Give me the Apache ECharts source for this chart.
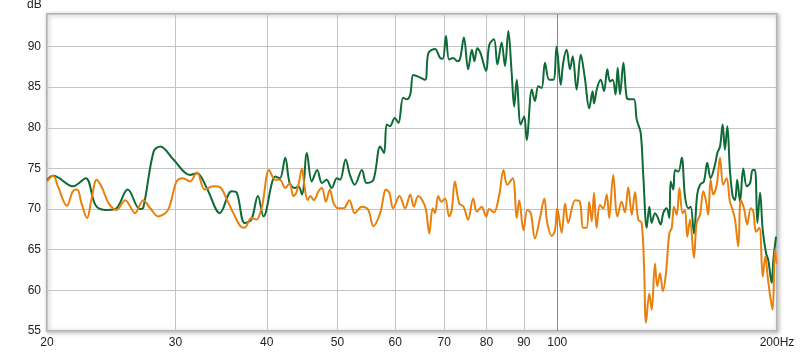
<!DOCTYPE html>
<html><head><meta charset="utf-8">
<script src="https://cdn.jsdelivr.net/npm/echarts@6/dist/echarts.min.js"></script>
<style>html,body{margin:0;padding:0;background:#fff}#c{width:800px;height:352px}</style>
</head><body><div id="c"></div>
<script>
const xTicks = [20,30,40,50,60,70,80,90,100,200];
const yMin = 55, yMax = 94, yStep = 5;

const greenFreq = [20.0,20.4,21.7,22.6,23.3,24.0,24.8,25.8,26.8,27.1,
28.0,28.6,29.8,31.4,32.1,33.1,34.5,35.8,36.4,37.3,
38.1,38.9,39.6,41.1,41.7,42.4,43.0,43.7,44.2,44.7,
45.4,46.1,46.9,47.6,48.3,49.1,49.9,50.4,51.3,52.0,
52.8,54.0,54.8,56.0,57.2,57.9,58.4,59.0,59.9,60.6,
61.5,62.2,62.9,63.5,64.5,65.9,66.6,68.0,69.1,69.7,
70.4,71.1,72.0,73.0,73.6,74.5,75.5,76.4,77.0,77.7,
78.5,79.9,80.7,81.9,82.8,83.9,84.8,85.7,86.6,87.3,
88.0,89.1,90.1,90.8,92.3,93.2,94.2,95.2,96.2,97.5,
98.8,99.8,101.1,101.9,103.0,104.1,105.0,106.3,107.7,109.1,
110.6,111.8,112.3,113.4,114.7,115.9,117.1,118.1,119.1,120.2,
121.0,121.9,123.2,124.5,125.8,127.4,128.5,130.1,131.2,132.6,
133.7,134.7,136.1,137.1,138.6,139.7,141.2,142.4,143.0,144.2,
145.0,146.5,148.1,149.6,151.2,152.3,153.9,155.5,156.9,158.8,
160.5,162.2,164.5,165.7,167.1,168.5,169.7,171.0,172.4,173.9,
175.2,176.4,178.0,179.8,181.8,183.7,185.2,186.6,188.0,189.6,
191.2,193.2,194.6,196.7,197.7,199.4];
const greenDb = [73.6,74.1,72.8,73.8,70.5,69.9,70.0,72.4,70.0,70.2,
77.1,77.7,76.1,74.2,74.4,72.6,69.5,72.2,72.0,68.3,
68.7,71.6,69.1,74.0,73.8,76.3,73.2,72.6,72.8,71.8,
76.9,73.4,74.8,73.2,73.6,72.6,73.8,73.6,76.1,74.2,
73.0,74.8,73.2,73.6,77.7,76.9,80.4,80.2,81.2,80.6,
83.7,83.5,84.1,86.5,86.3,85.9,89.2,89.7,88.6,88.5,
91.3,88.4,88.6,88.2,88.5,91.1,87.2,89.6,88.2,89.8,
89.2,87.0,90.2,90.9,87.8,90.5,87.6,91.9,86.8,82.6,
85.9,80.4,81.4,78.5,84.7,83.3,85.1,84.9,88.0,85.9,
85.9,90.0,85.3,88.0,89.6,87.2,88.8,84.7,89.0,86.1,
82.4,84.5,83.0,84.9,85.9,84.5,87.2,85.7,85.9,84.1,
87.4,84.1,88.0,83.7,83.5,83.5,81.0,79.4,74.0,67.7,
70.3,68.3,69.5,69.1,68.1,69.5,70.1,68.9,73.4,72.4,
74.8,74.6,76.3,71.6,70.1,70.3,67.0,71.8,73.0,73.4,
75.7,73.8,75.5,76.9,77.7,80.4,77.3,80.2,74.8,71.6,
71.1,73.6,70.9,75.0,72.8,73.2,74.8,74.8,68.3,72.0,
67.4,64.6,63.7,60.9,63.7,66.6];

const orangeFreq = [20.0,20.4,20.7,21.3,21.7,22.0,22.3,22.7,23.0,23.4,
23.8,24.3,24.9,25.6,26.4,27.1,27.7,28.4,29.3,30.1,
30.7,31.4,32.1,32.9,33.8,34.5,35.3,36.0,36.8,37.3,
38.1,38.7,39.4,40.3,41.1,41.7,42.4,43.0,43.5,43.9,
44.3,44.7,45.0,45.5,45.9,46.4,47.1,47.6,48.2,48.8,
49.4,50.1,51.0,51.9,52.8,54.0,55.1,56.0,57.2,58.3,
58.9,59.6,60.8,61.9,62.9,63.6,64.5,65.5,66.1,66.8,
67.5,68.0,68.7,69.4,70.2,71.1,71.7,72.4,73.4,74.4,
75.5,76.7,77.6,78.8,79.9,80.7,81.9,83.3,84.4,85.4,
86.9,88.0,88.7,89.9,91.0,92.0,93.2,94.7,96.0,96.9,
98.3,99.3,100.0,101.4,102.5,103.5,105.8,107.4,108.5,109.7,
110.6,111.5,112.3,113.2,114.4,115.6,116.9,117.8,119.3,120.9,
122.5,123.8,125.1,126.5,127.8,129.1,130.5,131.5,132.3,133.7,
134.7,136.1,137.1,138.3,139.5,140.9,142.4,143.5,144.5,145.8,
147.0,148.5,149.6,150.7,152.0,153.9,155.2,156.9,158.5,159.8,
161.0,162.2,163.6,165.4,167.1,168.8,170.6,172.4,173.9,175.2,
177.0,178.4,180.2,182.1,184.1,185.6,187.2,189.2,191.2,192.8,
194.2,196.1,197.3,198.7,199.8];
const orangeDb = [73.4,74.1,72.8,70.4,72.2,72.4,70.7,68.9,71.1,73.6,
72.6,70.7,69.9,71.1,69.5,71.1,70.1,69.1,69.9,73.4,
73.8,73.4,74.5,72.4,72.8,72.7,71.1,69.5,67.9,67.7,
68.9,68.7,70.3,74.8,73.6,73.6,72.6,73.2,71.6,72.0,
73.4,75.0,73.2,71.1,71.6,71.1,72.2,72.6,70.9,72.4,
70.7,70.1,70.1,71.1,69.5,70.3,69.9,67.9,69.5,72.4,
72.0,70.1,71.6,70.1,71.8,70.3,71.6,70.9,69.9,67.0,
70.1,69.5,71.6,70.9,71.3,69.1,69.9,73.4,70.7,70.3,
68.7,71.3,69.7,70.3,69.1,70.0,69.6,71.8,74.8,73.0,
73.8,68.9,71.1,67.4,69.9,69.5,66.4,68.9,71.3,68.3,
66.7,67.4,70.1,67.1,70.7,68.3,71.1,70.9,67.7,67.7,
70.9,68.5,72.0,67.7,70.5,70.1,71.8,68.9,74.2,69.1,
70.9,69.6,72.7,69.3,72.1,68.7,68.3,62.9,56.0,59.6,
57.6,63.3,60.5,62.1,59.9,62.1,67.0,67.7,70.3,69.3,
72.6,69.5,69.9,66.6,68.7,64.0,68.3,69.3,72.2,71.1,
69.3,73.6,71.8,73.0,76.3,73.0,73.8,70.9,69.9,68.7,
65.4,71.1,70.1,68.1,70.1,69.7,67.2,67.7,61.7,64.2,
61.7,58.8,57.6,65.0,63.3];

const zip = (a, b) => a.map((v, i) => [v, b[i]]);
const font = '"Liberation Sans", Arial, sans-serif';
const vColors = xTicks.map(v => v === 100 ? '#8a8a8a' : '#c4c4c4');

const chart = echarts.init(document.getElementById('c'), null, {renderer: 'canvas'});
chart.setOption({
  animation: false,
  backgroundColor: '#fff',
  title: { text: 'dB', left: 27, top: -1, padding: 0,
    textStyle: { fontSize: 12, fontWeight: 'normal', color: '#222', fontFamily: font } },
  grid: { left: 47, right: 23, top: 14, bottom: 21, show: true,
    backgroundColor: '#fff', borderColor: '#b4b4b4', borderWidth: 2,
    shadowColor: 'rgba(0,0,0,0.25)', shadowBlur: 4, shadowOffsetX: 1, shadowOffsetY: 1 },
  xAxis: {
    type: 'log', logBase: 10, min: 20, max: 200,
    axisLine: { show: false },
    axisTick: { show: false, customValues: xTicks },
    axisLabel: { customValues: xTicks, margin: 6, fontSize: 12, color: '#222', fontFamily: font,
      formatter: v => (Math.round(v) === 200 ? '200Hz' : String(Math.round(v))) },
    splitLine: { show: true, lineStyle: { color: vColors, width: 1 } }
  },
  yAxis: {
    type: 'value', min: yMin, max: yMax, interval: yStep,
    axisLine: { show: false }, axisTick: { show: false },
    axisLabel: { margin: 6, fontSize: 12, color: '#222', fontFamily: font, showMaxLabel: false,
      formatter: v => (v % 5 === 0 ? String(v) : '') },
    splitLine: { show: true, lineStyle: { color: '#c4c4c4', width: 1 } }
  },
  series: [
    { type: 'line', data: zip(greenFreq, greenDb), showSymbol: false, smooth: 0.35,
      lineStyle: { color: '#0e6a36', width: 2 }, itemStyle: { color: '#0e6a36' } },
    { type: 'line', data: zip(orangeFreq, orangeDb), showSymbol: false, smooth: 0.35,
      lineStyle: { color: '#e8800e', width: 2 }, itemStyle: { color: '#e8800e' } }
  ]
});
</script></body></html>
